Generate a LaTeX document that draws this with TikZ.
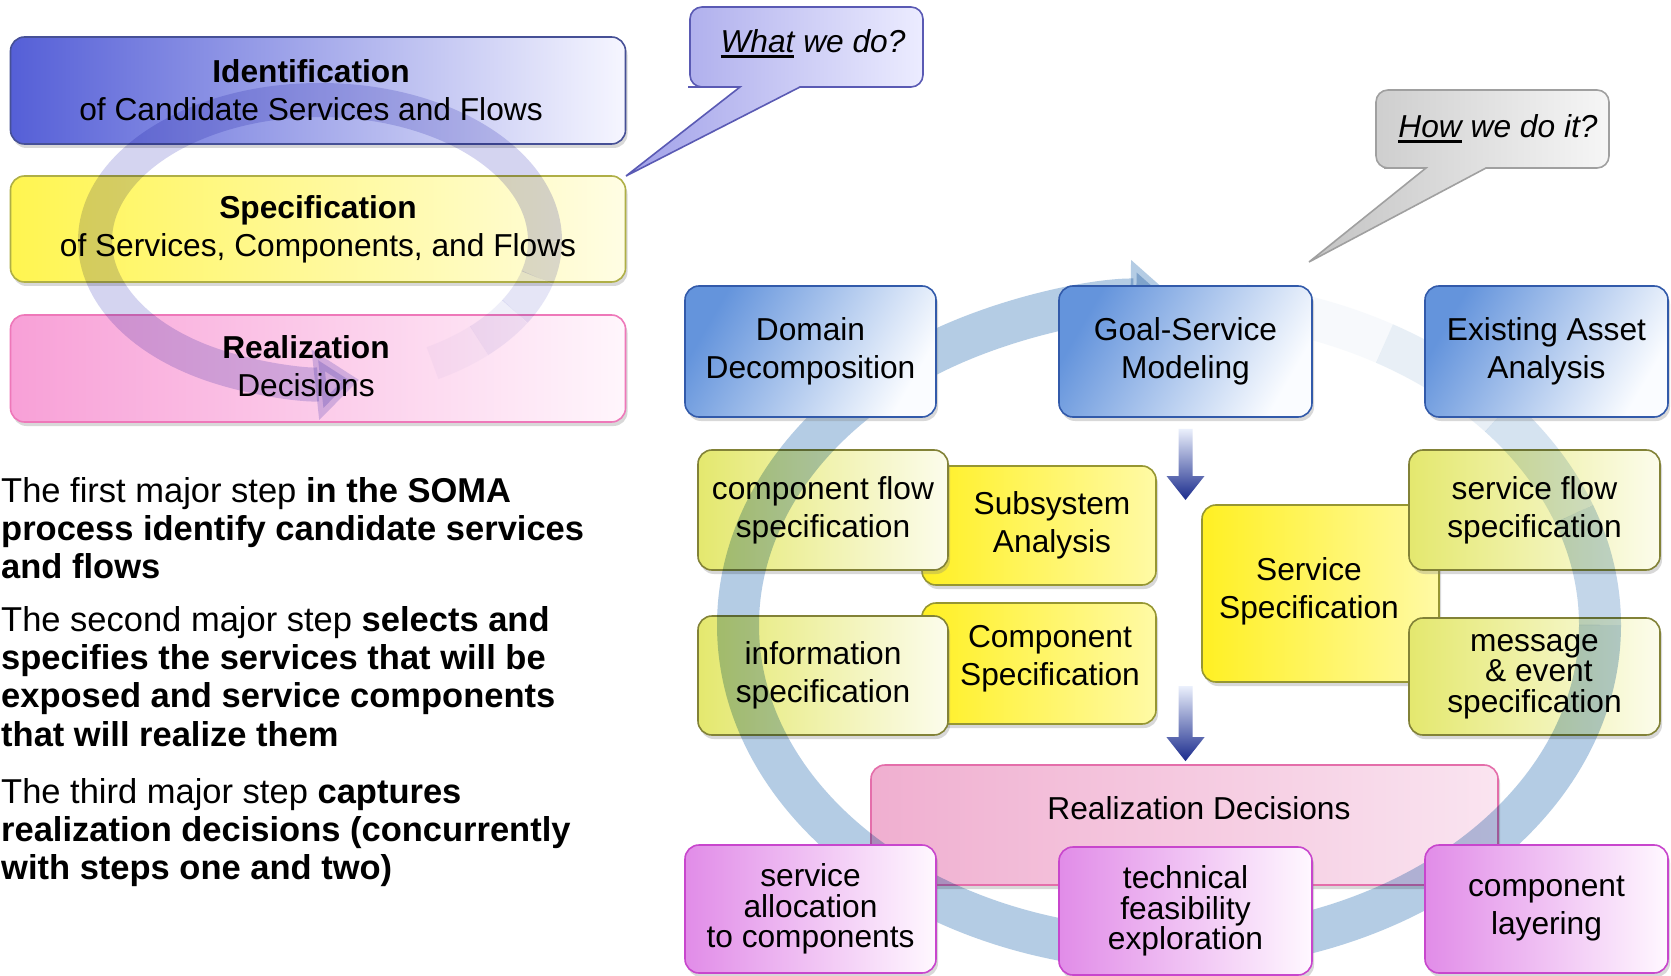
\documentclass[tikz,border=0pt]{standalone}
\usepackage{fontspec}
\setmainfont{Liberation Sans}
\usetikzlibrary{arrows.meta,%
                shadows,%
                calc}

\definecolor{identL}{RGB}{85,95,215}
\definecolor{identR}{RGB}{246,246,255}
\definecolor{identD}{RGB}{70,80,150}
\definecolor{specL}{RGB}{255,245,80}
\definecolor{specR}{RGB}{255,253,228}
\definecolor{specD}{RGB}{175,175,70}
\definecolor{realL}{RGB}{248,160,215}
\definecolor{realR}{RGB}{255,246,252}
\definecolor{realD}{RGB}{238,120,185}
\definecolor{whatL}{RGB}{160,160,232}
\definecolor{whatR}{RGB}{236,236,255}
\definecolor{whatD}{RGB}{90,90,180}
\definecolor{howL}{RGB}{195,195,195}
\definecolor{howR}{RGB}{246,246,246}
\definecolor{howD}{RGB}{160,160,160}
\definecolor{blueL}{RGB}{100,148,220}
\definecolor{blueR}{RGB}{250,252,255}
\definecolor{blueD}{RGB}{50,90,170}
\definecolor{frontL}{RGB}{228,232,110}
\definecolor{frontR}{RGB}{252,252,236}
\definecolor{frontD}{RGB}{130,130,55}
\definecolor{backL}{RGB}{255,240,35}
\definecolor{backR}{RGB}{255,250,165}
\definecolor{backD}{RGB}{150,150,50}
\definecolor{decL}{RGB}{240,175,208}
\definecolor{decR}{RGB}{250,228,240}
\definecolor{decD}{RGB}{228,110,170}
\definecolor{mageL}{RGB}{225,140,232}
\definecolor{mageR}{RGB}{255,248,255}
\definecolor{mageD}{RGB}{200,70,205}
\definecolor{lloop}{RGB}{212,212,240}
\definecolor{rloop}{RGB}{180,204,228}
\definecolor{arrtop}{RGB}{235,240,252}
\definecolor{arrmid}{RGB}{70,90,180}
\definecolor{arrnavy}{RGB}{25,42,140}

\tikzset{
  boxbase/.style={rounded corners=14pt, line width=1.6pt, inner sep=0pt,
    align=center, font=\fontsize{31.7}{38}\selectfont,
    drop shadow={shadow xshift=2pt, shadow yshift=-4pt, opacity=0.3}},
  identbox/.style={boxbase, draw=identD, left color=identL, right color=identR},
  specbox/.style={boxbase, draw=specD, left color=specL, right color=specR},
  realbox/.style={boxbase, draw=realD, left color=realL, right color=realR},
  bluebox/.style={boxbase, draw=blueD, left color=blueL, right color=blueR, shading angle=60},
  frontbox/.style={boxbase, draw=frontD, left color=frontL, right color=frontR},
  backbox/.style={boxbase, draw=backD, left color=backL, right color=backR},
  decbox/.style={boxbase, draw=decD, left color=decL, right color=decR},
  magebox/.style={boxbase, draw=mageD, left color=mageL, right color=mageR},
  boxtext/.style={align=center, inner sep=0pt, font=\fontsize{31.7}{38}\selectfont},
  tighttext/.style={font=\fontsize{31.7}{30.5}\selectfont},
  steptext/.style={align=left, inner sep=0pt, anchor=north west,
    font=\fontsize{34.5}{38.3}\selectfont},
  whatbubble/.style={draw=whatD, line width=1.6pt, left color=whatL, right color=whatR},
  howbubble/.style={draw=howD, line width=1.6pt, left color=howL, right color=howR},
  leftband/.style={draw=lloop, line width=34pt, line cap=butt},
  rightband/.style={draw=rloop, line width=42pt, line cap=butt},
}

\newcommand{\ulword}[1]{\setbox0\hbox{#1}\rlap{\rule[-5pt]{\wd0}{2.5pt}}\box0\relax}

\newcommand{\flowarrow}[2]{%
  \shade[top color=arrtop, middle color=arrmid, bottom color=arrnavy]
    let \p1=(#1), \p2=(#2) in
    (\x1-7pt,\y1) -- (\x1+7pt,\y1) -- (\x1+7pt,\y2+24pt) -- (\x1+19pt,\y2+24pt)
    -- (\x1,\y2) -- (\x1-19pt,\y2+24pt) -- (\x1-7pt,\y2+24pt) -- cycle;}

\begin{document}
\begin{tikzpicture}[x=1pt,y=-1pt]
  \useasboundingbox (0,0) rectangle (1671,976);
  \fill[white] (0,0) rectangle (1671,976);

  % the three steps
  \node[identbox, minimum width=615pt, minimum height=107pt] (ident) at (318,90.5) {};
  \node[boxtext] (identlbl) at (311,90) {\textbf{Identification}\\of Candidate Services and Flows};
  \node[specbox, minimum width=615pt, minimum height=106pt] (spec) at (318,229) {\textbf{Specification}\\of Services, Components, and Flows};
  \node[realbox, minimum width=615pt, minimum height=107pt] (real) at (318,368.5) {};
  \node[boxtext] (reallbl) at (306,366) {\textbf{Realization}\\Decisions};

  \coordinate (lcentre) at (320,241);
  \begin{scope}[blend mode=multiply]
    \foreach \a/\o in {60/0.15,45/0.35,30/0.6,15/0.85}
      \draw[leftband, opacity=\o] ([shift={(\a:225 and 141)}]lcentre)
        arc[start angle=\a, delta angle=-15, x radius=225, y radius=141];
    \draw[leftband, -{Triangle[length=44pt,width=68pt]}] ([shift={(0:225 and 141)}]lcentre)
      arc[start angle=0, end angle=-280, x radius=225, y radius=141];
  \end{scope}

  % speech bubbles
  \path[whatbubble] (700,87) -- (740,87) -- (626,176) -- (800,87) -- (860,87)
    [rounded corners=12pt] -- (923,87) -- (923,7) -- (690,7) -- (690,87) -- cycle;
  \node[boxtext] (whatlbl) at (813,44) {\itshape\ulword{What} we do?};
  \path[howbubble] (1396,168) -- (1426,168) -- (1309,262) -- (1486,168) -- (1550,168)
    [rounded corners=12pt] -- (1609,168) -- (1609,90) -- (1376,90) -- (1376,168) -- cycle;
  \node[boxtext] (howlbl) at (1498,129) {\itshape\ulword{How} we do it?};

  % notes
  \node[steptext] (stepone) at (1,477) {The first major step \textbf{in the SOMA}\\
    \textbf{process identify candidate services}\\\textbf{and flows}};
  \node[steptext] (steptwo) at (1,606) {The second major step \textbf{selects and}\\
    \textbf{specifies the services that will be}\\\textbf{exposed and service components}\\
    \textbf{that will realize them}};
  \node[steptext] (stepthree) at (1,778) {The third major step \textbf{captures}\\
    \textbf{realization decisions (concurrently}\\\textbf{with steps one and two)}};

  % specification group
  \node[backbox, minimum width=234pt, minimum height=119pt] (subsys) at (1039,525.5) {};
  \node[boxtext] (subsyslbl) at (1052,525) {Subsystem\\Analysis};
  \node[backbox, minimum width=234pt, minimum height=121pt] (compspec) at (1039,663.5) {};
  \node[boxtext] (compspeclbl) at (1050,659) {Component\\Specification};
  \node[backbox, minimum width=237pt, minimum height=177pt] (servspec) at (1320.5,593.5) {};
  \node[boxtext] (servspeclbl) at (1309,591) {Service\\Specification};
  \node[frontbox, minimum width=250pt, minimum height=120pt] (cflow) at (823,510) {component flow\\specification};
  \node[frontbox, minimum width=250pt, minimum height=119pt] (info) at (823,675.5) {information\\specification};
  \node[frontbox, minimum width=251pt, minimum height=120pt] (sflow) at (1534.5,510) {service flow\\specification};
  \node[frontbox, tighttext, minimum width=251pt, minimum height=117pt] (msg) at (1534.5,676.5) {message\\\ \& event\\specification};

  % realization group
  \node[decbox, minimum width=627pt, minimum height=120pt] (realdec) at (1184.5,825) {};
  \node[boxtext] (realdeclbl) at (1199,808) {Realization Decisions};

  \coordinate (rcentre) at (1169,625);
  \begin{scope}[blend mode=multiply]
    \foreach \a/\o in {-80/0.1,-60/0.3,-40/0.55,-20/0.8}
      \draw[rightband, opacity=\o] ([shift={(\a:431 and 325)}]rcentre)
        arc[start angle=\a, delta angle=20, x radius=431, y radius=325];
    \draw[rightband, -{Triangle[length=46pt,width=76pt]}] ([shift={(0:431 and 325)}]rcentre)
      arc[start angle=0, end angle=271, x radius=431, y radius=325];
  \end{scope}

  \node[magebox, tighttext, minimum width=251pt, minimum height=128pt] (alloc) at (810.5,909) {service\\allocation\\to components};
  \node[magebox, tighttext, minimum width=253pt, minimum height=128pt] (feas) at (1185.5,911) {technical\\feasibility\\exploration};
  \node[magebox, minimum width=243pt, minimum height=128pt] (layer) at (1546.5,909) {component\\layering};

  % identification group
  \node[bluebox, minimum width=251pt, minimum height=131pt] (domain) at (810.5,351.5) {Domain\\Decomposition};
  \node[bluebox, minimum width=253pt, minimum height=131pt] (goal) at (1185.5,351.5) {Goal-Service\\Modeling};
  \node[bluebox, minimum width=243pt, minimum height=131pt] (asset) at (1546.5,351.5) {Existing Asset\\Analysis};

  \coordinate (arrAtop) at ([yshift=-11pt]goal.south);
  \coordinate (arrAtip) at (1185.5,500);
  \coordinate (arrBtop) at (1185.5,686);
  \coordinate (arrBtip) at ([yshift=3pt]realdec.north -| goal.south);
  \flowarrow{arrAtop}{arrAtip}
  \flowarrow{arrBtop}{arrBtip}
\end{tikzpicture}
\end{document}
